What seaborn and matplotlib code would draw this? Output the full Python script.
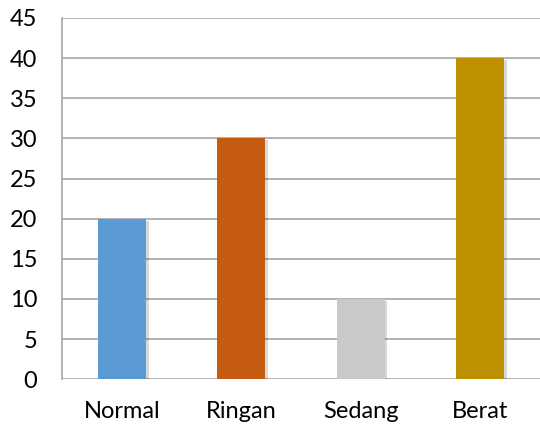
import pandas as pd
import matplotlib.pyplot as plt
import matplotlib.patheffects as pe
import seaborn as sns

kategori = ["Normal", "Ringan", "Sedang", "Berat"]
nilai = [20, 30, 10, 40]
warna = ["#5B9BD5", "#C55A11", "#C9C9C9", "#BF9000"]

df = pd.DataFrame({"kategori": kategori, "nilai": nilai})

sns.set_style("white")
plt.rcParams['font.family'] = ['Lato', 'DejaVu Sans']

fig = plt.figure(figsize=(5.4, 4.28), dpi=100)
ax = fig.add_axes([0.115, 0.114, 0.885, 0.844])

sns.barplot(data=df, x="kategori", y="nilai", hue="kategori",
            palette=dict(zip(kategori, warna)), width=0.4, saturation=1,
            linewidth=0, edgecolor="none", legend=False, ax=ax, zorder=3)

# soft shadow like the original office chart
for p in ax.patches:
    p.set_path_effects([pe.SimplePatchShadow(offset=(2, -1.5), shadow_rgbFace="#000000", alpha=0.15),
                        pe.Normal()])

ax.set_xlim(-0.5, 3.5)
ax.set_ylim(0, 45)
ax.set_yticks(range(0, 46, 5))
ax.yaxis.grid(True, color="#A6A6A6", linewidth=1.2)
ax.set_axisbelow(True)
ax.set_xlabel("")
ax.set_ylabel("")
for s in ["top", "right", "bottom"]:
    ax.spines[s].set_visible(False)
ax.spines["left"].set_color("#A6A6A6")
ax.spines["left"].set_linewidth(1.2)
ax.tick_params(axis="both", length=0, labelsize=17, colors="black")
ax.tick_params(axis="y", pad=18)
ax.tick_params(axis="x", pad=16)

plt.savefig("out.png", dpi=100)
